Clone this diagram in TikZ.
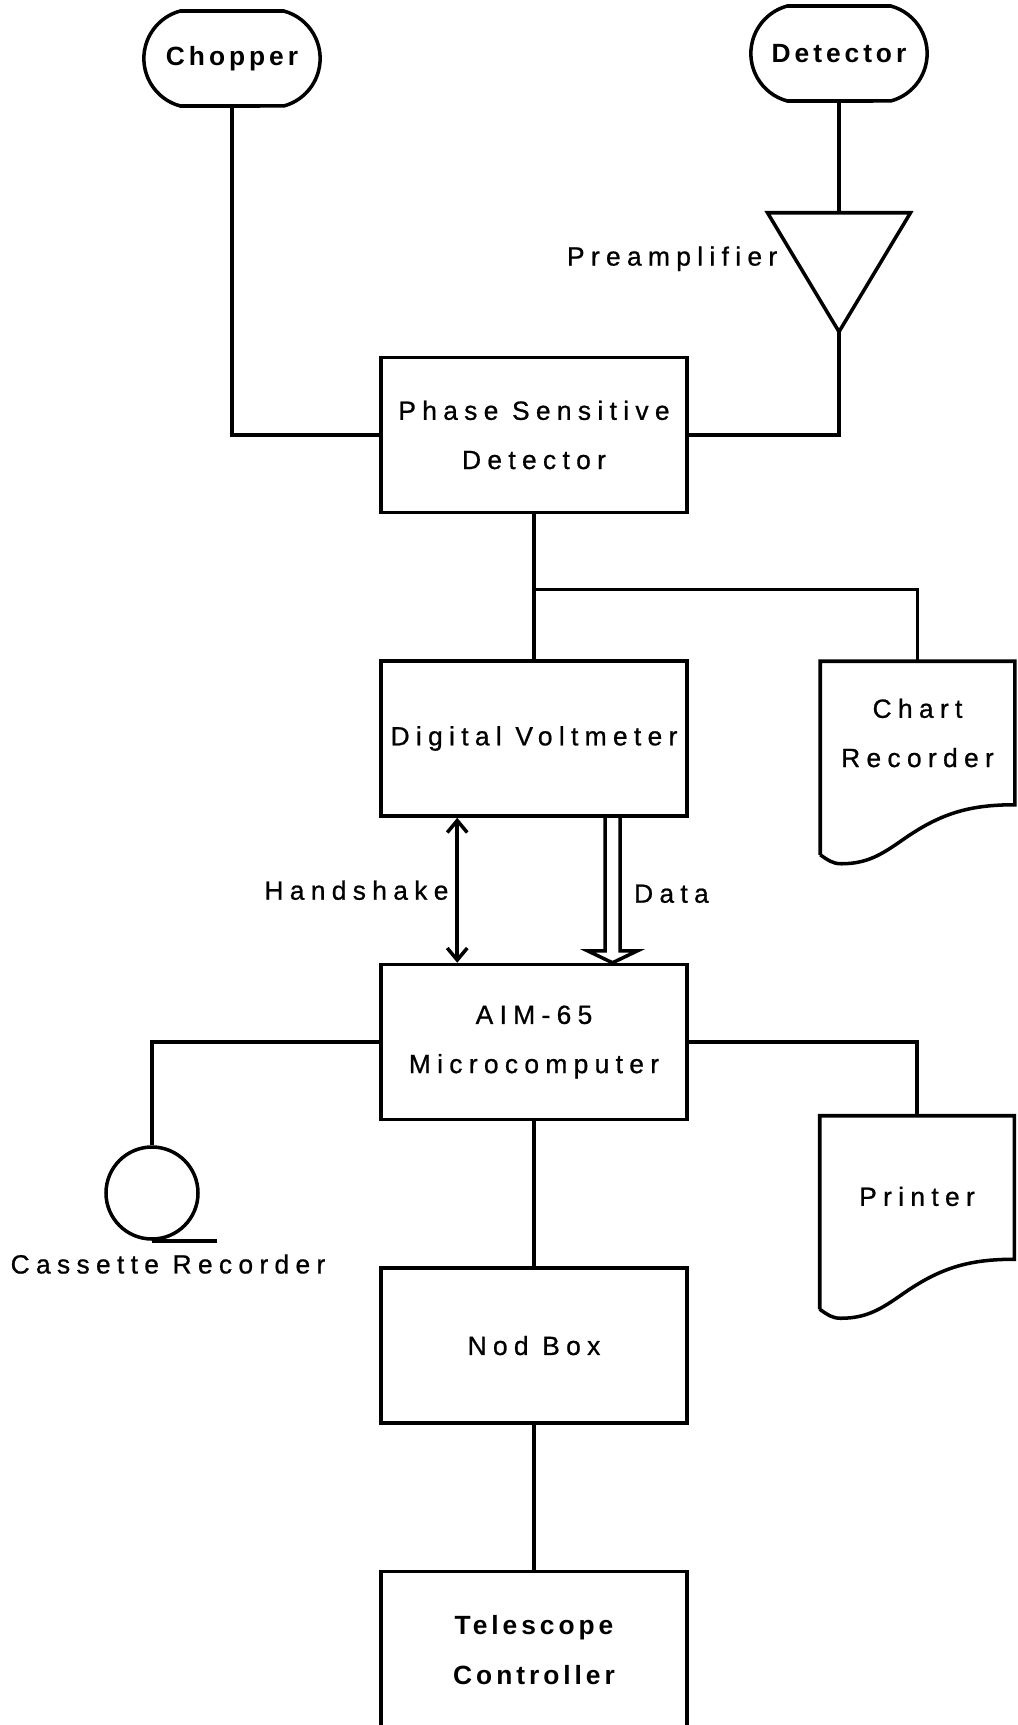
\documentclass[tikz,border=0pt]{standalone}
\usepackage{fontspec}
\setmainfont{Liberation Sans}[LetterSpace=24, FakeBold=0.8,
  BoldFeatures={LetterSpace=15, FakeBold=0}]
\usetikzlibrary{arrows.meta, positioning, shapes.misc}

\newcommand{\plotfont}{\fontsize{15pt}{28pt}\selectfont}
% paper sheet with a torn (wavy) lower edge
\newcommand{\printoutline}[1]{%
  \draw ([yshift=-1.0cm]#1.south west) -- (#1.north west) -- (#1.north east) -- (#1.south east)
    to[out=180, in=35] ([xshift=-2.24cm, yshift=-0.7cm]#1.south east)
    to[out=215, in=0] ([xshift=0.42cm, yshift=-1.18cm]#1.south west)
    to[out=180, in=-35] ([yshift=-1.0cm]#1.south west);}

\begin{document}
\begin{tikzpicture}[
  line width=2pt,
  node distance=2.9cm,
  font=\plotfont,
  unit/.style={draw, minimum width=6.12cm, minimum height=3.1cm, align=center, inner sep=0pt},
  sensor/.style={draw, rounded rectangle, rounded rectangle arc length=150,
                 minimum width=3.76cm, minimum height=1.9cm, font=\plotfont\bfseries},
  printout/.style={minimum width=3.82cm, minimum height=2.8cm, align=center},
  handshake/.style={{Straight Barb[length=2.4mm, width=4mm]}-{Straight Barb[length=2.4mm, width=4mm]}}
]
\useasboundingbox (0,0) rectangle (20.36,-34.5);

% signal sources
\node[sensor] (chopper)  at (4.64,-1.17) {Chopper};
\node[sensor] (detector) at (16.78,-1.07) {Detector};

% preamplifier
\coordinate[below=2.2cm of detector] (ampin);
\coordinate[below=2.38cm of ampin] (ampout);
\draw ([xshift=-1.43cm]ampin) -- ([xshift=1.43cm]ampin) -- (ampout) -- cycle;
\node[anchor=east, inner sep=0pt] (amplabel) at ([xshift=-1.2cm, yshift=-0.92cm]ampin) {Preamplifier};

% main chain
\node[unit] (psd) at (10.68,-8.7) {Phase Sensitive\\Detector};
\node[unit, below=of psd] (dvm) {Digital Voltmeter};
\node[unit, below=of dvm] (aim) {AIM-65\\Microcomputer};
\node[unit, below=of aim] (nod) {Nod Box};
\node[unit, below=of nod, minimum height=3.14cm, font=\plotfont\bfseries] (scope) {Telescope\\Controller};

% peripherals
\node[printout] (chart) at (18.35,-14.66) {Chart\\Recorder};
\printoutline{chart}
\node[printout, text height=0.74cm] (printer) at (18.34,-23.75) {Printer};
\printoutline{printer}

\node[draw, circle, minimum size=1.84cm] (cassette) at (3.04,-23.86) {};
\draw (cassette.south) -- ++(1.3,0);
\node[below=0.12cm of cassette, xshift=0.32cm] (cassettetext) {Cassette Recorder};

% connections
\draw (chopper.south) |- (psd.west);
\draw (detector.south) -- (ampin);
\draw (ampout) |- (psd.east);
\draw (psd.south) -- (dvm.north);
\coordinate[below=1.5cm of psd] (split);
\draw (split) -| (chart.north);

\coordinate (hs) at ([xshift=1.56cm]dvm.south west);
\draw[handshake] (hs) -- (hs |- aim.north) node[midway, left, inner sep=4pt] {Handshake};

\coordinate (datatop) at ([xshift=1.57cm]dvm.south);
\coordinate (datatip) at (datatop |- aim.north);
\draw ([xshift=-0.15cm]datatop) -- ([xshift=-0.15cm, yshift=0.24cm]datatip)
  -- ([xshift=-0.5cm, yshift=0.24cm]datatip) -- (datatip)
  -- ([xshift=0.5cm, yshift=0.24cm]datatip) -- ([xshift=0.15cm, yshift=0.24cm]datatip)
  -- ([xshift=0.15cm]datatop);
\node[right=0.28cm of datatop, yshift=-1.52cm] (datalabel) {Data};

\draw (aim.west) -| (cassette.north);
\draw (aim.east) -| (printer.north);
\draw (aim.south) -- (nod.north);
\draw (nod.south) -- (scope.north);

\end{tikzpicture}
\end{document}
